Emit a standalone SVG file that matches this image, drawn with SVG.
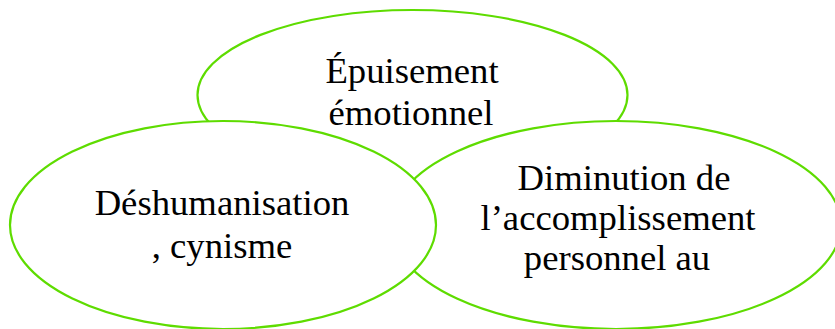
<svg xmlns="http://www.w3.org/2000/svg" width="835" height="329" viewBox="0 0 835 329">
<style>
.node ellipse{fill:#ffffff;stroke:#5EDC00;stroke-width:2.2}
.node text{font-family:"Liberation Serif","Times New Roman",serif;font-size:36.7px;fill:#000000;text-anchor:middle}
</style>
<rect width="835" height="329" fill="#ffffff"/>
<g id="connectors"></g>
<g id="node-epuisement" class="node">
<ellipse cx="412.5" cy="95" rx="215" ry="85"/>
<text x="412" y="83">Épuisement</text>
<text x="411" y="125">émotionnel</text>
</g>
<g id="node-diminution" class="node">
<ellipse cx="616" cy="225" rx="225" ry="104"/>
<text x="624" y="190">Diminution de</text>
<text x="618" y="230">l’accomplissement</text>
<text x="617" y="270">personnel au</text>
</g>
<g id="node-deshumanisation" class="node">
<ellipse cx="223" cy="225" rx="213" ry="104"/>
<text x="222" y="215">Déshumanisation</text>
<text x="222" y="258">, cynisme</text>
</g>
</svg>
